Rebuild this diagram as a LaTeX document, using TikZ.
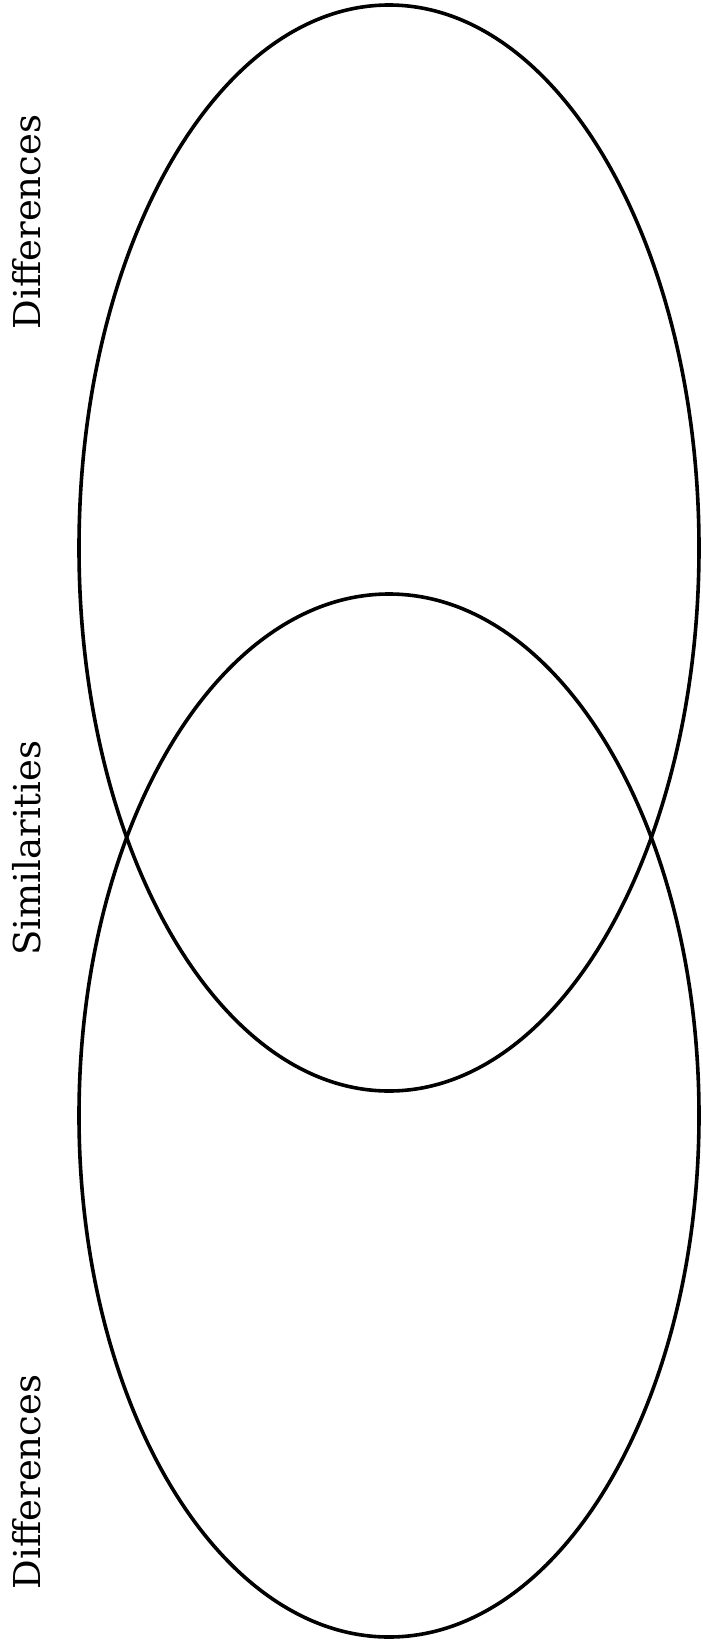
\documentclass[tikz,border=0pt]{standalone}
\usepackage{fontspec}
\setmainfont{DejaVu Serif}
\usepackage{tikz}
\tikzset{
  x=1pt, y=-1pt,
  venn/.style={draw=black, line width=3.6pt},
  sidelbl/.style={rotate=90, anchor=base, inner sep=0pt, font=\fontsize{37}{40}\selectfont},
}

\begin{document}
\begin{tikzpicture}
  \useasboundingbox (0,0) rectangle (702,1650);
  \draw[venn] (389,548) ellipse [x radius=310pt, y radius=543pt];
  \draw[venn] (389,1115.5) ellipse [x radius=310pt, y radius=521.5pt];
  \node[sidelbl] (difftop) at (40,222) {Differences};
  \node[sidelbl] (simil) at (40,848) {Similarities};
  \node[sidelbl] (diffbot) at (40,1482) {Differences};
\end{tikzpicture}
\end{document}
